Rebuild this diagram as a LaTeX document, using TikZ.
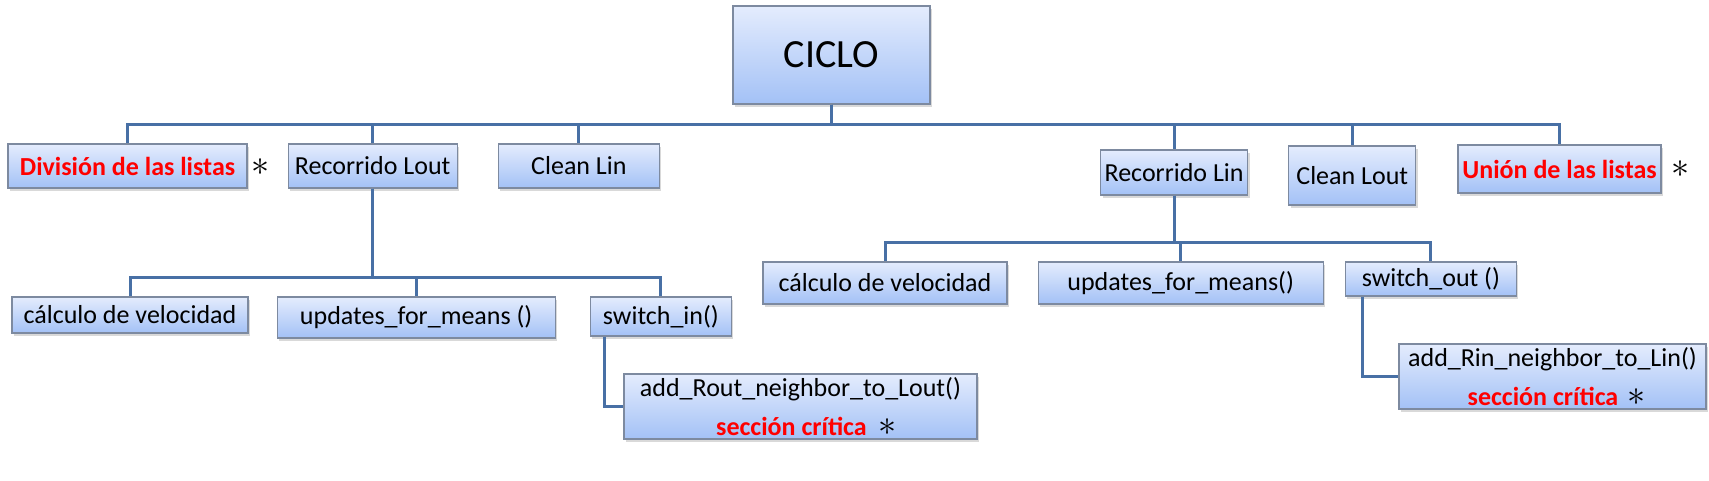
\documentclass[tikz,border=0pt]{standalone}
\usepackage{fontspec}
\setmainfont{Carlito}
\usepackage{xcolor}
\usepackage{tikz}
\usetikzlibrary{positioning,shadows}

\definecolor{boxtop}{RGB}{228,236,253}
\definecolor{boxbottom}{RGB}{163,193,246}
\definecolor{boxline}{RGB}{125,138,160}
\definecolor{linkblue}{RGB}{72,112,165}

\newcommand{\bigast}{\scalebox{1.45}{$\ast$}}

\begin{document}
\begin{tikzpicture}[
    x=1pt, y=1pt,
    node distance=40pt,
    box/.style={rectangle, draw=boxline, line width=1.2pt, top color=boxtop, bottom color=boxbottom,
        drop shadow={opacity=0.3, shadow xshift=2pt, shadow yshift=-2.5pt},
        inner xsep=4pt, inner ysep=1pt, align=center, font=\fontsize{26}{39}\selectfont},
    crit/.style={text=red, font=\fontsize{26}{39}\selectfont\bfseries},
    star/.style={inner sep=0pt, font=\fontsize{26}{30}\selectfont},
    link/.style={draw=linkblue, line width=3pt}
]
    \useasboundingbox (0,0) rectangle (1709,-480);

    % Root
    \node[box, minimum width=197pt, minimum height=98pt, font=\fontsize{40}{44}\selectfont] (ciclo) at (831.5,-55) {CICLO};

    % First level
    \node[box, crit, minimum width=239pt, minimum height=44pt] (div) at (127.5,-166) {División de las listas};
    \node[star, right=4pt of div, yshift=-1pt] (divstar) {\bigast};
    \node[box, minimum width=169pt, minimum height=44pt, right=of div] (rlout) {Recorrido Lout};
    \node[box, minimum width=161pt, minimum height=44pt, right=of rlout] (clin) {Clean Lin};
    \node[box, minimum width=147pt, minimum height=45pt, right=440pt of clin, yshift=-6.5pt] (rlin) {Recorrido Lin};
    \node[box, minimum width=127pt, minimum height=59pt, right=of rlin, yshift=-3pt] (clout) {Clean Lout};
    \node[box, crit, minimum width=203pt, minimum height=48pt, right=41pt of clout, yshift=6.5pt] (union) {Unión de las listas};
    \node[star, right=10pt of union] (unistar) {\bigast};

    % Second level, Lout side
    \node[box, minimum width=236pt, minimum height=36pt] (calcout) at (130,-315) {cálculo de velocidad};
    \node[box, minimum width=278pt, minimum height=41pt, right=28pt of calcout, yshift=-2.5pt] (updout) {updates\_for\_means ()};
    \node[box, minimum width=141pt, minimum height=39pt, right=34pt of updout, yshift=1pt] (swin) {switch\_in()};
    \node[box, minimum width=353pt, minimum height=65pt] (addrout) at (800.5,-406.5)
        {add\_Rout\_neighbor\_to\_Lout()\\ \hspace{12pt}\textcolor{red}{\bfseries sección crítica}\hspace{12pt}\bigast};

    % Second level, Lin side
    \node[box, minimum width=244pt, minimum height=42pt] (calcin) at (885,-283) {cálculo de velocidad};
    \node[box, minimum width=285pt, minimum height=42pt, right=30pt of calcin] (updin) {updates\_for\_means()};
    \node[box, minimum width=171pt, minimum height=34pt, right=21pt of updin, yshift=4pt] (swout) {switch\_out ()};
    \node[box, minimum width=307pt, minimum height=65pt] (addrin) at (1552.5,-376.5)
        {add\_Rin\_neighbor\_to\_Lin()\\ \hspace{8pt}\textcolor{red}{\bfseries sección crítica}\hspace{9pt}\bigast};

    % Links
    \coordinate (bar1) at (0,-124);
    \coordinate (bar2) at (0,-277);
    \coordinate (bar3) at (0,-242);
    \draw[link] (ciclo.south) |- (div.north |- bar1) -- (div.north);
    \draw[link] (ciclo.south) |- (rlout.north |- bar1) -- (rlout.north);
    \draw[link] (ciclo.south) |- (clin.north |- bar1) -- (clin.north);
    \draw[link] (ciclo.south) |- (rlin.north |- bar1) -- (rlin.north);
    \draw[link] (ciclo.south) |- (clout.north |- bar1) -- (clout.north);
    \draw[link] (ciclo.south) |- (union.north |- bar1) -- (union.north);

    \draw[link] (rlout.south) |- (calcout.north |- bar2) -- (calcout.north);
    \draw[link] (rlout.south) |- (updout.north |- bar2) -- (updout.north);
    \draw[link] (rlout.south) |- (swin.north |- bar2) -- (swin.north);
    \draw[link] ([xshift=15pt]swin.south west) |- (addrout.west);

    \draw[link] (rlin.south) |- (calcin.north |- bar3) -- (calcin.north);
    \draw[link] (rlin.south) |- (updin.north |- bar3) -- (updin.north);
    \draw[link] (rlin.south) |- (swout.north |- bar3) -- (swout.north);
    \draw[link] ([xshift=18pt]swout.south west) |- (addrin.west);

\end{tikzpicture}
\end{document}
